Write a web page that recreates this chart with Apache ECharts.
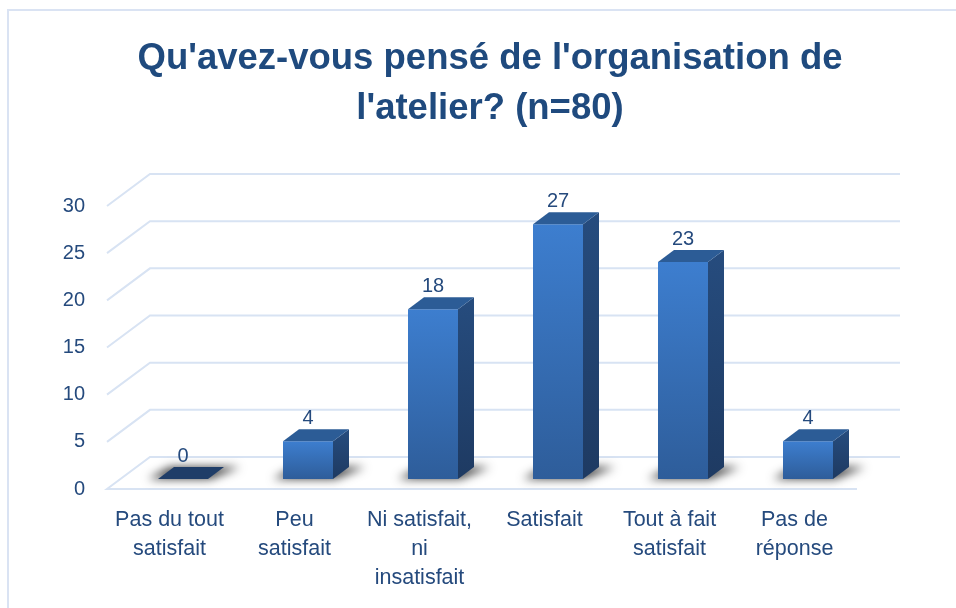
<!DOCTYPE html>
<html>
<head>
<meta charset="utf-8">
<script src="https://cdn.jsdelivr.net/npm/echarts@6/dist/echarts.min.js"></script>
<style>
html, body { margin: 0; padding: 0; background: #fff; }
#chart { width: 956px; height: 608px; }
</style>
</head>
<body>
<div id="chart"></div>
<script>
const categories = ['Pas du tout\nsatisfait', 'Peu\nsatisfait', 'Ni satisfait,\nni\ninsatisfait', 'Satisfait', 'Tout à fait\nsatisfait', 'Pas de\nréponse'];
const values = [0, 4, 18, 27, 23, 4];
const yTicks = [0, 5, 10, 15, 20, 25, 30];
const titleText = "Qu'avez-vous pensé de l'organisation de\nl'atelier? (n=80)";

const font = '"Liberation Sans", Arial, sans-serif';
const textColor = '#254a7d';
const gridColor = '#d8e3f3';
// profondeur du sol (effet 3D) et position des barres dans cette profondeur
const depth = [43, -32];
const barFront = [13.5, -10];
const barDepth = [16, -12];
const barWidth = 50;
const shadowShift = 2000; // l'ombre est dessinée hors champ puis décalée

const chart = echarts.init(document.getElementById('chart'));

const option = {
  animation: false,
  graphic: [
    {
      type: 'rect',
      shape: { x: 8, y: 10, width: 1000, height: 700 },
      style: { fill: null, stroke: '#dae3f3', lineWidth: 2 },
      silent: true
    },
    {
      type: 'text',
      x: 490,
      y: 34,
      style: {
        text: titleText,
        fill: '#1f4a7e',
        fontFamily: font,
        fontSize: 36.5,
        fontWeight: 'bold',
        lineHeight: 50,
        align: 'center',
        verticalAlign: 'top'
      }
    }
  ],
  grid: {
    left: 107,
    right: 99,
    top: 206,
    bottom: 119
  },
  xAxis: {
    type: 'category',
    data: categories,
    axisLine: { show: false },
    axisTick: { show: false },
    axisLabel: {
      interval: 0,
      margin: 17,
      color: textColor,
      fontFamily: font,
      fontSize: 21.5,
      lineHeight: 29
    }
  },
  yAxis: {
    type: 'value',
    min: 0,
    max: 30,
    interval: 5,
    axisLine: { show: false },
    axisTick: { show: false },
    splitLine: { show: false },
    axisLabel: {
      margin: 22,
      color: textColor,
      fontFamily: font,
      fontSize: 20
    }
  },
  series: [
    {
      // lignes de quadrillage en perspective
      type: 'custom',
      silent: true,
      z: 1,
      data: yTicks.map(v => [0, v]),
      renderItem(params, api) {
        const band = api.size([1, 0])[0];
        const p = api.coord([0, api.value(1)]);
        const xL = p[0] - band / 2;
        const xR = xL + band * categories.length;
        const y = p[1];
        const pts = [[xL, y], [xL + depth[0], y + depth[1]], [xR + depth[0], y + depth[1]]];
        if (api.value(1) === 0) pts.unshift([xR, y]);
        return {
          type: 'polyline',
          shape: { points: pts },
          style: { stroke: gridColor, lineWidth: 2, fill: null }
        };
      }
    },
    {
      // barres 3D
      type: 'custom',
      z: 3,
      data: values.map((v, i) => [i, v]),
      renderItem(params, api) {
        const i = api.value(0);
        const v = api.value(1);
        const base = api.coord([i, 0]);
        const top = api.coord([i, v]);
        const x0 = base[0] - barWidth / 2 + barFront[0];
        const x1 = x0 + barWidth;
        const yb = base[1] + barFront[1];
        const yt = top[1] + barFront[1];
        const dx = barDepth[0];
        const dy = barDepth[1];
        const s = shadowShift;
        const children = [];
        children.push({
          type: 'polygon',
          shape: { points: [[x0 - 10 - s, yb], [x1 + 2 - s, yb], [x1 + dx + 16 - s, yb + dy], [x0 + dx - 4 - s, yb + dy]] },
          style: {
            fill: '#000',
            shadowBlur: 10,
            shadowOffsetX: s,
            shadowColor: 'rgba(0,0,0,0.75)'
          }
        });
        if (v > 0) {
          children.push({
            type: 'rect',
            shape: { x: x0, y: yt, width: barWidth, height: yb - yt },
            style: {
              fill: new echarts.graphic.LinearGradient(0, 0, 0, 1, [
                { offset: 0, color: '#3d7ecf' },
                { offset: 1, color: '#2e5d9a' }
              ])
            }
          });
          children.push({
            type: 'polygon',
            shape: { points: [[x1, yt], [x1 + dx, yt + dy], [x1 + dx, yb + dy], [x1, yb]] },
            style: {
              fill: new echarts.graphic.LinearGradient(0, 0, 0, 1, [
                { offset: 0, color: '#264c7e' },
                { offset: 1, color: '#1e3a62' }
              ])
            }
          });
          children.push({
            type: 'polygon',
            shape: { points: [[x0, yt], [x1, yt], [x1 + dx, yt + dy], [x0 + dx, yt + dy]] },
            style: { fill: '#2c5c96' }
          });
        } else {
          children.push({
            type: 'polygon',
            shape: { points: [[x0, yb], [x1, yb], [x1 + dx, yb + dy], [x0 + dx, yb + dy]] },
            style: { fill: '#1f3d68' }
          });
        }
        children.push({
          type: 'text',
          style: {
            text: String(v),
            x: (x0 + x1) / 2,
            y: yt - 23,
            align: 'center',
            verticalAlign: 'middle',
            fill: textColor,
            fontFamily: font,
            fontSize: 20
          }
        });
        return { type: 'group', children };
      }
    }
  ]
};

chart.setOption(option);
</script>
</body>
</html>
